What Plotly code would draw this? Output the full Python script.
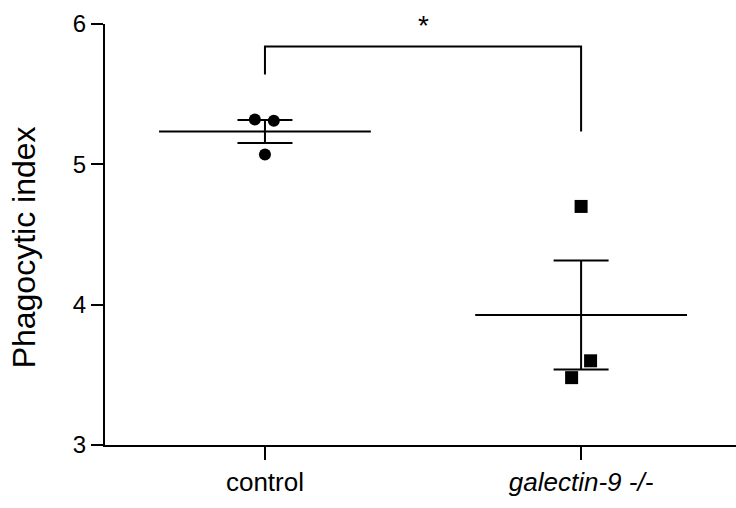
import numpy as np
import plotly.graph_objects as go

categories = ["control", "galectin-9 -/-"]
tick_text = ["control", "<i>galectin-9 -/-</i>"]
control_values = [5.32, 5.31, 5.07]
galectin_values = [4.70, 3.60, 3.48]
control_jitter = [-0.032, 0.028, 0.0]
galectin_jitter = [0.0, 0.030, -0.030]
y_ticks = [3, 4, 5, 6]
y_title = "Phagocytic index"
bracket_left_y = 5.64
bracket_top_y = 5.84
significance = "*"

groups = [
    (0, control_values, control_jitter, "circle", 12),
    (1, galectin_values, galectin_jitter, "square", 13),
]

fig = go.Figure()
half = 0.335
for xi, vals, jit, sym, size in groups:
    v = np.array(vals)
    mean = v.mean()
    sem = v.std(ddof=1) / np.sqrt(len(v))
    fig.add_trace(go.Scatter(x=[xi - half, xi + half], y=[mean, mean], mode="lines",
                             line=dict(color="black", width=2), hoverinfo="skip"))
    fig.add_trace(go.Scatter(x=[xi], y=[mean], mode="markers",
                             marker=dict(size=1, opacity=0),
                             error_y=dict(type="data", array=[sem], visible=True,
                                          color="black", thickness=2, width=27.5)))
    fig.add_trace(go.Scatter(x=[xi + j for j in jit], y=vals, mode="markers",
                             marker=dict(symbol=sym, size=size, color="black")))

fig.add_trace(go.Scatter(x=[0, 0, 1, 1],
                         y=[bracket_left_y, bracket_top_y, bracket_top_y, np.mean(control_values)],
                         mode="lines", line=dict(color="black", width=2), hoverinfo="skip"))
fig.add_annotation(x=0.5, y=bracket_top_y, text=significance, showarrow=False,
                   yshift=21, font=dict(size=28, color="black"))

# y-axis title as rotated annotation
fig.add_annotation(xref="paper", yref="paper", x=-0.128, y=0.47, text=y_title,
                   xanchor="center", yanchor="middle",
                   textangle=-90, showarrow=False, font=dict(size=32, color="black"))

fig.update_layout(
    width=736, height=508,
    margin=dict(l=105, r=0, t=23.5, b=62.5),
    paper_bgcolor="white", plot_bgcolor="white",
    showlegend=False,
    font=dict(family="Liberation Sans, Arial, sans-serif", color="black", size=24),
)
fig.update_xaxes(range=[-0.506, 1.49], tickvals=[0, 1], ticktext=tick_text,
                 showline=True, linecolor="black", linewidth=2,
                 ticks="outside", ticklen=13, tickwidth=2, tickcolor="black",
                 showgrid=False, zeroline=False, tickfont=dict(size=26))
fig.update_yaxes(range=[3, 6], tickvals=y_ticks,
                 showline=True, linecolor="black", linewidth=2,
                 ticks="outside", ticklen=12, tickwidth=2, tickcolor="black",
                 showgrid=False, zeroline=False, tickfont=dict(size=24))

fig.write_html("out.html")
